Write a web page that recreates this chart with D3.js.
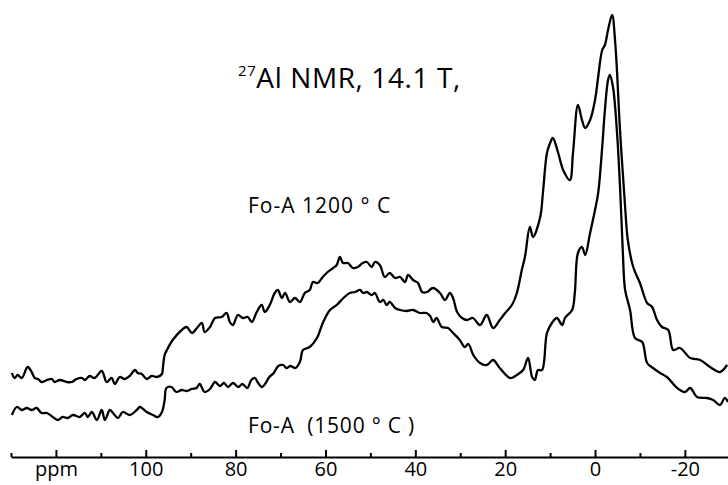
<!DOCTYPE html>
<html>
<head>
<meta charset="utf-8">
<script src="https://cdn.jsdelivr.net/npm/d3@7"></script>
<style>
  body { margin: 0; background: #fff; }
  text { font-family: "Open Sans", Lato, sans-serif; fill: #000; }
</style>
</head>
<body>
<script>
// 27Al NMR spectra, chemical shift in ppm, intensity in arbitrary units

// Fo-A 1200 °C (upper trace)
const ppm1200 = [129.8,129.2,128.5,127.6,126.3,125.4,124.7,124.0,123.2,122.0,120.9,120.3,119.1,117.6,116.5,115.4,114.2,113.6,112.5,111.4,
  109.8,108.7,107.6,106.9,105.8,104.7,103.6,102.4,101.8,100.9,99.8,98.7,97.5,96.4,96.2,95.8,95.3,94.0,
  92.0,90.9,89.7,88.6,87.5,86.9,85.7,84.6,83.1,82.0,81.3,80.6,79.5,78.4,77.3,76.4,75.3,74.2,73.5,72.4,71.3,70.6,69.7,69.0,
  67.9,66.8,65.7,64.6,63.5,62.8,61.7,60.6,59.5,58.3,57.5,56.8,56.1,55.0,53.9,52.8,51.7,50.8,49.7,49.0,47.9,46.8,45.7,44.5,
  43.4,42.3,41.6,40.5,39.4,38.5,37.4,36.1,34.5,33.4,32.3,31.6,30.7,29.6,28.5,27.2,25.6,
  24.1,22.7,21.2,20.0,18.5,17.4,16.3,15.6,14.5,13.8,12.2,11.6,10.7,10.0,9.4,8.2,7.1,5.6,4.9,3.8,2.9,2.2,1.1,0.0,
  -0.7,-1.6,-2.2,-2.9,-3.8,-4.5,-5.6,-6.7,-7.3,-8.5,-10.0,-11.6,-12.7,-13.8,-14.9,-16.3,-17.4,-18.9,-21.2,-23.4,-25.6,-27.8,-29.4];
const int1200 = [67,62,65,62,73,68,62,61,58,60,61,58,60,58,58,61,62,60,64,62,
  69,58,62,56,63,61,64,70,67,66,61,64,63,66,72,85,90,100,
  110,113,107,112,117,108,113,122,123,127,118,115,125,122,123,118,128,135,128,135,147,150,142,147,
  138,142,138,147,150,158,157,163,168,172,175,183,177,177,172,173,177,178,173,178,175,163,167,162,
  163,158,165,160,157,148,148,152,147,140,147,142,128,122,120,122,115,
  125,112,120,127,135,147,170,183,213,203,223,247,287,297,302,287,270,260,287,335,320,312,320,340,
  363,390,395,410,425,397,307,233,200,173,157,137,133,120,113,110,90,92,82,80,73,68,75];

// Fo-A 1500 °C (lower trace)
const ppm1500 = [129.8,128.7,127.6,126.5,125.4,124.3,123.2,122.0,120.7,119.6,118.5,117.4,116.2,114.7,113.6,112.9,112.0,110.9,109.8,109.1,
  108.0,107.3,106.2,105.1,103.6,102.0,101.3,99.8,98.4,97.3,96.4,95.8,
  95.4,94.3,93.2,92.0,90.9,89.8,88.7,88.0,86.9,85.7,84.6,83.5,82.6,81.7,80.6,79.4,78.5,77.4,76.5,75.7,75.0,74.1,73.3,72.5,
  71.5,70.5,69.4,68.7,67.8,66.7,65.7,65.0,
  63.5,61.9,60.6,59.0,57.5,56.0,54.6,53.4,52.3,51.6,50.8,49.7,49.0,47.9,47.1,46.4,45.7,44.5,43.4,41.9,40.5,39.0,37.5,36.7,36.0,
  35.3,34.1,32.7,31.6,30.1,29.0,28.2,27.1,25.6,
  24.1,22.7,21.2,18.9,17.4,16.0,14.9,14.0,13.4,12.7,11.8,10.7,9.6,8.5,7.3,6.7,5.1,4.5,3.8,2.9,2.2,1.1,0.0,
  -0.7,-1.6,-2.2,-2.9,-3.3,-4.0,-4.9,-5.6,-6.2,-6.7,-7.8,-8.9,-10.5,-11.6,-12.9,-14.5,-16.0,-18.3,-20.0,-21.2,-22.7,-24.9,-26.3,-27.8,-28.9,-29.6];
const int1500 = [25,33,30,32,30,32,27,27,23,20,23,22,25,23,27,23,28,20,30,20,
  30,27,22,28,25,30,33,28,25,23,28,40,
  52,53,48,50,49,51,52,56,48,51,58,54,57,53,57,53,56,52,60,62,57,53,57,63,
  67,74,75,72,74,72,78,90,
  93,102,117,130,135,142,147,148,150,147,148,145,147,138,140,135,138,132,130,129,130,127,127,124,118,
  122,113,112,107,100,93,96,85,77,
  75,80,72,62,65,70,82,63,60,70,70,107,117,122,115,122,130,147,187,193,185,207,230,
  247,293,330,360,365,353,307,250,187,150,130,102,98,77,72,67,63,52,48,52,43,42,40,35,42,38];

// axis ticks
const majorTicks = [120, 100, 80, 60, 40, 20, 0, -20];
const minorTicks = [130, 110, 90, 70, 50, 30, 10, -10];
const tickLabels = ["ppm", "100", "80", "60", "40", "20", "0", "-20"];

const W = 728, H = 485;

const svg = d3.select("body").append("svg")
  .attr("width", W)
  .attr("height", H);

// ppm runs right to left
const x = d3.scaleLinear().domain([130, -29.6]).range([11, 728]);
const y = d3.scaleLinear().domain([0, 440]).range([440, 0]);

const line = d3.line()
  .x(d => x(d[0]))
  .y(d => y(d[1]))
  .curve(d3.curveCatmullRom.alpha(0.5));

const series = [
  { ppm: ppm1200, val: int1200 },
  { ppm: ppm1500, val: int1500 }
];

svg.selectAll(".spec")
  .data(series)
  .enter()
  .append("path")
    .attr("class", "spec")
    .attr("fill", "none")
    .attr("stroke", "#000")
    .attr("stroke-width", 2.3)
    .attr("stroke-linejoin", "round")
    .attr("d", s => line(s.ppm.map((p, i) => [p, s.val[i]])));

// axis: minor ticks first, then major with labels
const axisY = 457;

svg.append("g")
  .attr("transform", `translate(0,${axisY})`)
  .call(d3.axisBottom(x).tickValues(minorTicks).tickSizeInner(-4).tickSizeOuter(0).tickFormat(""))
  .call(g => g.selectAll("line").attr("stroke-width", 2))
  .call(g => g.select(".domain").remove());

const axis = svg.append("g")
  .attr("transform", `translate(0,${axisY})`)
  .call(d3.axisBottom(x)
    .tickValues(majorTicks)
    .tickSizeInner(-7)
    .tickSizeOuter(0)
    .tickPadding(5)
    .tickFormat((d, i) => tickLabels[i]));

axis.select(".domain").attr("stroke-width", 2);
axis.selectAll("line").attr("stroke-width", 2);
axis.selectAll("text")
  .attr("font-size", "20px")
  .attr("font-family", "'Open Sans', sans-serif");

// title
const title = svg.append("text")
  .attr("x", 238)
  .attr("y", 88)
  .attr("font-size", "28px")
  .attr("letter-spacing", "0.6px");
title.append("tspan").attr("font-size", "15px").attr("dy", -12).text("27");
title.append("tspan").attr("dy", 12).text("Al NMR, 14.1 T,");

// series labels
svg.append("text")
  .attr("x", 248)
  .attr("y", 213)
  .attr("font-size", "21px")
  .attr("letter-spacing", "1px")
  .style("white-space", "pre")
  .text("Fo-A 1200 ° C");

svg.append("text")
  .attr("x", 248)
  .attr("y", 433)
  .attr("font-size", "21px")
  .attr("letter-spacing", "0.8px")
  .style("white-space", "pre")
  .text("Fo-A  (1500 ° C )");
</script>
</body>
</html>
